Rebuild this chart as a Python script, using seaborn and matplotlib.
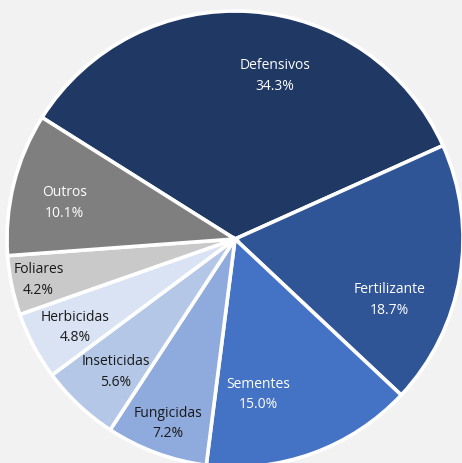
import matplotlib
matplotlib.use("Agg")
import matplotlib.pyplot as plt
import numpy as np
import seaborn as sns

# ------------------------------------------------------------------------
#  Data
# ------------------------------------------------------------------------
categories = ["Defensivos", "Fertilizante", "Sementes", "Fungicidas",
              "Inseticidas", "Herbicidas", "Foliares", "Outros"]
shares = [34.3, 18.7, 15.0, 7.2, 5.6, 4.8, 4.2, 10.1]

colors = ["#203864", "#2F5597", "#4472C4", "#8FAADC",
          "#B4C7E7", "#DAE3F3", "#C9C9C9", "#7F7F7F"]
text_colors = ["white", "white", "white", "#1a1a1a",
               "#1a1a1a", "#1a1a1a", "#1a1a1a", "white"]
# label placement (fraction of radius, angle shift in degrees) like Excel's best fit
label_r = [0.736, 0.73, 0.69, 0.86, 0.783, 0.80, 0.88, 0.763]
label_shift = [-9.8, -12, -11.3, 0.3, 1.5, 1, 0, 2]

BG = "#F2F2F2"

sns.set_theme(style="white")
plt.rcParams["font.family"] = ["Open Sans", "DejaVu Sans"]

fig = plt.figure(figsize=(4.62, 4.63), dpi=100, facecolor=BG)
ax = fig.add_axes([0, 0, 1, 1])
ax.set_facecolor(BG)

start = 147.8
wedges, _ = ax.pie(shares, colors=colors, startangle=start, counterclock=False,
                   radius=1.0, center=(0, 0),
                   wedgeprops=dict(edgecolor="white", linewidth=2.6))

total = sum(shares)
for w, name, val, tc, r, sh in zip(wedges, categories, shares, text_colors,
                                   label_r, label_shift):
    mid = np.deg2rad((w.theta1 + w.theta2) / 2 + sh)
    ax.text(r * np.cos(mid), r * np.sin(mid), f"{name}\n{val / total * 100:.1f}%",
            ha="center", va="center", color=tc, fontsize=10, linespacing=1.5)

# map pie centre to pixel (235, 239) with radius 228 px
R = 228.0
ax.set_xlim(-235 / R, (462 - 235) / R)
ax.set_ylim(-(463 - 239) / R, 239 / R)
ax.set_aspect("equal")
ax.axis("off")

fig.savefig("out.png", dpi=100, facecolor=BG)
plt.close(fig)
